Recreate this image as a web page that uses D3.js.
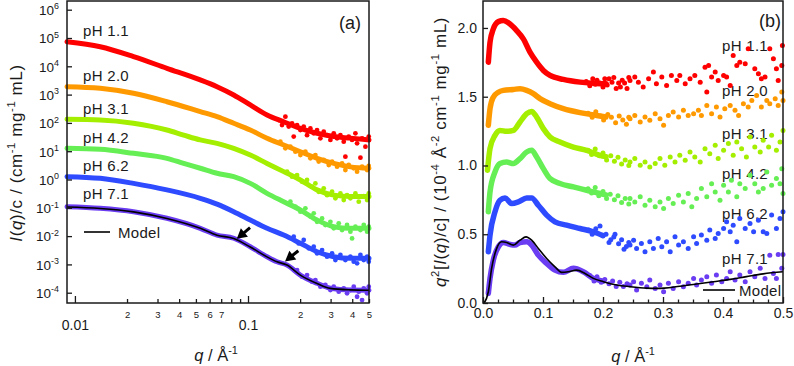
<!DOCTYPE html>
<html>
<head>
<meta charset="utf-8">
<script src="https://cdn.jsdelivr.net/npm/d3@7"></script>
<style>
  body { margin: 0; background: #fff; }
  svg { display: block; font-family: "Liberation Sans", Arial, Helvetica, sans-serif; }
</style>
</head>
<body>
<svg id="chart" width="794" height="366"></svg>
<script>
// ---------- data ----------
const phLabels = ['pH 1.1', 'pH 2.0', 'pH 3.1', 'pH 4.2', 'pH 6.2', 'pH 7.1'];
const phColors = ['#ff0000', '#ff9900', '#a4ee00', '#66ee55', '#2e4bff', '#6a3cf2'];

// panel (a): I(q)/c, curves shifted by decades. [q, I]
const trendA11 = [[0.009,7.4e4],[0.014,4.9e4],[0.0218,2.2e4],[0.034,8.5e3],[0.053,3.3e3],[0.0662,1.9e3],[0.0827,970],[0.1031,430],[0.1288,190],[0.1608,110],[0.2006,64],[0.2505,43],[0.3129,33],[0.3902,29],[0.5,25]];
const trendA20 = [[0.009,1.9e3],[0.014,1.67e3],[0.0218,1.11e3],[0.034,560],[0.053,250],[0.0662,166],[0.0827,97],[0.1031,56],[0.1288,28.6],[0.1608,16.6],[0.2006,9.6],[0.2505,5.6],[0.3129,3.7],[0.3902,2.8],[0.5,2.5]];
const trendA31 = [[0.009,134],[0.014,127],[0.0218,97],[0.034,56],[0.0425,37],[0.053,25],[0.0662,19],[0.0827,12.6],[0.1031,7.3],[0.1288,3.7],[0.1608,1.9],[0.2006,0.96],[0.2505,0.43],[0.3129,0.28],[0.3902,0.25],[0.5,0.25]];
const trendA42 = [[0.009,12.6],[0.014,11.7],[0.0218,8.4],[0.034,5.6],[0.0425,3.7],[0.053,2.5],[0.0662,1.66],[0.0827,1.26],[0.1031,0.73],[0.1288,0.325],[0.1608,0.164],[0.2006,0.084],[0.2505,0.037],[0.3129,0.0215],[0.3902,0.0189],[0.5,0.0189]];
const trendA62 = [[0.009,1.26],[0.014,1.10],[0.0218,0.73],[0.034,0.43],[0.053,0.217],[0.0662,0.135],[0.0827,0.073],[0.1031,0.037],[0.1288,0.0189],[0.1608,0.0109],[0.2006,0.0056],[0.2505,0.0028],[0.3129,0.00187],[0.3902,0.00164],[0.5,0.00164]];
const trendA71 = [[0.009,0.109],[0.014,0.096],[0.0218,0.073],[0.034,0.0426],[0.053,0.0189],[0.0662,0.0109],[0.0827,0.0084],[0.1031,0.0042],[0.1288,0.00187],[0.1471,0.00124],[0.168,0.00095],[0.2006,0.00042],[0.2505,0.000215],[0.299,0.000143],[0.3902,0.000124],[0.5,0.000123]];

const noiseA11 = [[0.1505,126],[0.1572,84],[0.1644,166],[0.1719,74],[0.1796,97],[0.1837,33],[0.192,84],[0.2007,56],[0.2098,74],[0.2193,37],[0.2293,64],[0.2397,43],[0.2505,56],[0.2619,28.5],[0.2738,49],[0.2862,37],[0.2992,25],[0.3128,43],[0.3269,28.5],[0.3418,37],[0.3573,21.7],[0.3652,6.4],[0.3818,33],[0.3992,25],[0.4173,43],[0.4267,19],[0.4461,5.9],[0.456,28.5],[0.4767,14.5],[0.4983,33]];
const noiseA20 = [[0.1538,21.7],[0.1644,12.6],[0.1757,14.5],[0.1878,9.6],[0.2007,7.3],[0.2145,9.6],[0.2293,5.6],[0.245,7.3],[0.2561,4.3],[0.2738,4.9],[0.2927,3.25],[0.3059,4.3],[0.3269,2.85],[0.3495,3.7],[0.3652,2.17],[0.3818,3.25],[0.4082,2.48],[0.4267,1.89],[0.456,2.85],[0.4875,2.17],[0.4983,3.0]];
const noiseA31 = [[0.168,1.89],[0.1796,1.26],[0.192,1.44],[0.2052,0.84],[0.2193,0.96],[0.2344,0.56],[0.245,0.73],[0.2561,0.37],[0.2738,0.49],[0.2862,0.28],[0.3059,0.37],[0.3198,0.216],[0.3418,0.32],[0.3573,0.189],[0.3734,0.28],[0.3904,0.216],[0.4173,0.32],[0.4363,0.165],[0.4663,0.26],[0.4875,0.189],[0.4983,0.32]];
const noiseA42 = [[0.1757,0.165],[0.1878,0.110],[0.2007,0.073],[0.2145,0.096],[0.2293,0.049],[0.2397,0.064],[0.2505,0.032],[0.2678,0.042],[0.2799,0.0247],[0.2992,0.032],[0.3128,0.0188],[0.3343,0.0282],[0.3495,0.0164],[0.3734,0.0247],[0.3904,0.0143],[0.3992,0.0083],[0.4173,0.0215],[0.4461,0.0164],[0.4663,0.0247],[0.4875,0.0143],[0.4983,0.0215]];
const noiseA62 = [[0.1837,0.0095],[0.1963,0.0055],[0.2098,0.0073],[0.2242,0.0037],[0.2397,0.0042],[0.2505,0.00246],[0.2678,0.0032],[0.2862,0.00188],[0.3059,0.00246],[0.3198,0.00143],[0.3418,0.00215],[0.3652,0.00143],[0.3904,0.00188],[0.4082,0.00125],[0.4267,0.00109],[0.4461,0.00215],[0.4663,0.00143],[0.4875,0.00188],[0.4983,0.00125]];
const noiseA71 = [[0.192,6.3e-4],[0.2052,3.7e-4],[0.2193,4.2e-4],[0.2344,2.45e-4],[0.245,2.8e-4],[0.2619,1.63e-4],[0.2799,1.87e-4],[0.2992,1.24e-4],[0.3128,1.63e-4],[0.3343,1.09e-4],[0.3573,1.43e-4],[0.3734,9.5e-5],[0.3904,1.24e-4],[0.4082,1.63e-4],[0.4267,7.2e-5],[0.4363,1.09e-4],[0.456,5.5e-5],[0.4663,1.43e-4],[0.4875,9.5e-5],[0.4983,1.63e-4]];

const modelA = [[0.009,0.107],[0.014,0.095],[0.0218,0.072],[0.034,0.042],[0.053,0.0188],[0.0662,0.0108],[0.0827,0.0082],[0.1031,0.0041],[0.1288,0.00185],[0.1471,0.00124],[0.168,0.00095],[0.2006,0.00042],[0.2505,0.000212],[0.299,0.000142],[0.3902,0.000126],[0.5,0.000122]];
// arrows: [tail, head] as [q, I]
const arrowsA = [[[0.1027,0.0198],[0.0861,0.0080]], [[0.1953,0.00305],[0.1636,0.00128]]];

// panel (b): q^2 I(q)/c (1e-4 units), curves offset. [q, y]
const trendB11 = [[0.0089,1.751],[0.0117,1.896],[0.0172,1.993],[0.0256,2.046],[0.0339,2.054],[0.045,2.029],[0.0561,1.981],[0.0672,1.921],[0.0783,1.824],[0.0894,1.751],[0.1006,1.691],[0.1117,1.655],[0.1339,1.626],[0.1617,1.606],[0.1894,1.596],[0.205,1.594]];
const trendB20 = [[0.0089,1.292],[0.0117,1.413],[0.0172,1.497],[0.0256,1.533],[0.0339,1.546],[0.0506,1.553],[0.0617,1.558],[0.0728,1.546],[0.0839,1.522],[0.095,1.486],[0.1117,1.449],[0.1339,1.413],[0.1617,1.384],[0.1894,1.364],[0.205,1.352]];
const trendB31 = [[0.0075,0.965],[0.0117,1.123],[0.02,1.219],[0.0283,1.255],[0.0394,1.248],[0.0506,1.255],[0.0617,1.316],[0.0728,1.377],[0.0811,1.393],[0.0894,1.352],[0.1006,1.268],[0.1117,1.207],[0.1283,1.171],[0.1506,1.134],[0.1728,1.11],[0.195,1.074],[0.205,1.064]];
const trendB42 = [[0.0089,0.663],[0.0117,0.808],[0.02,0.953],[0.0283,1.014],[0.0394,1.025],[0.0506,1.014],[0.0617,1.05],[0.0728,1.098],[0.0811,1.11],[0.0894,1.062],[0.1006,0.977],[0.1117,0.905],[0.1283,0.869],[0.1506,0.844],[0.1728,0.82],[0.195,0.796],[0.205,0.786]];
const trendB62 = [[0.0089,0.372],[0.0117,0.493],[0.02,0.663],[0.0283,0.747],[0.0367,0.764],[0.0478,0.723],[0.0589,0.735],[0.0728,0.764],[0.0811,0.764],[0.0922,0.711],[0.1061,0.639],[0.12,0.59],[0.1394,0.566],[0.1617,0.542],[0.1839,0.518],[0.2,0.49]];
const trendB71 = [[0.0089,0.07],[0.0117,0.179],[0.0172,0.312],[0.0256,0.409],[0.0339,0.44],[0.045,0.426],[0.0533,0.421],[0.0617,0.44],[0.0728,0.445],[0.0811,0.421],[0.0922,0.348],[0.1061,0.288],[0.12,0.239],[0.1339,0.223],[0.1506,0.252],[0.1672,0.227],[0.1839,0.179],[0.2,0.158]];

const noiseB11 = [[0.172,1.61],[0.178,1.58],[0.183,1.63],[0.187,1.59],[0.19,1.62],[0.195,1.6],[0.2,1.57],[0.203,1.63],[0.207,1.585],[0.21,1.63],[0.215,1.605],[0.218,1.64],[0.222,1.56],[0.226,1.6],[0.229,1.57],[0.232,1.62],[0.236,1.6],[0.24,1.56],[0.243,1.64],[0.245,1.618],[0.253,1.643],[0.259,1.606],[0.267,1.57],[0.276,1.63],[0.284,1.679],[0.289,1.594],[0.298,1.643],[0.306,1.582],[0.314,1.655],[0.323,1.618],[0.328,1.655],[0.337,1.594],[0.345,1.63],[0.353,1.655],[0.362,1.606],[0.37,1.715],[0.373,1.534],[0.376,1.727],[0.381,1.643],[0.387,1.679],[0.392,1.618],[0.401,1.655],[0.406,1.643],[0.412,1.582],[0.417,1.8],[0.423,1.727],[0.428,1.751],[0.437,1.739],[0.442,1.848],[0.453,1.703],[0.459,1.667],[0.464,1.63],[0.47,1.643],[0.478,1.848],[0.484,1.776],[0.489,1.703],[0.492,1.618],[0.498,1.727],[0.499,1.872]];
const noiseB20 = [[0.175,1.38],[0.182,1.35],[0.188,1.39],[0.196,1.36],[0.201,1.33],[0.208,1.37],[0.214,1.35],[0.221,1.31],[0.227,1.36],[0.233,1.33],[0.239,1.3],[0.243,1.35],[0.245,1.34],[0.253,1.364],[0.262,1.316],[0.27,1.352],[0.278,1.328],[0.287,1.376],[0.295,1.34],[0.301,1.292],[0.309,1.364],[0.317,1.388],[0.326,1.352],[0.334,1.401],[0.342,1.364],[0.351,1.376],[0.359,1.401],[0.364,1.364],[0.373,1.437],[0.381,1.376],[0.389,1.425],[0.395,1.352],[0.403,1.413],[0.412,1.437],[0.42,1.401],[0.426,1.364],[0.434,1.449],[0.442,1.425],[0.448,1.473],[0.456,1.509],[0.464,1.425],[0.473,1.473],[0.478,1.449],[0.487,1.485],[0.492,1.437],[0.498,1.534],[0.5,1.473]];
const noiseB31 = [[0.175,1.11],[0.181,1.08],[0.187,1.12],[0.194,1.07],[0.2,1.09],[0.206,1.04],[0.213,1.07],[0.219,1.03],[0.225,1.06],[0.231,1.01],[0.237,1.04],[0.243,1.0],[0.245,1.026],[0.253,1.05],[0.262,1.001],[0.27,1.026],[0.278,0.989],[0.287,1.014],[0.295,1.05],[0.303,1.001],[0.312,1.062],[0.32,1.026],[0.328,1.074],[0.337,1.038],[0.345,1.098],[0.353,1.062],[0.362,1.026],[0.37,1.122],[0.378,1.086],[0.387,1.147],[0.392,1.05],[0.401,1.11],[0.409,1.159],[0.417,1.074],[0.423,1.171],[0.431,1.122],[0.439,1.062],[0.445,1.207],[0.453,1.135],[0.462,1.098],[0.467,1.183],[0.476,1.135],[0.481,1.219],[0.489,1.11],[0.495,1.171],[0.5,1.255]];
const noiseB42 = [[0.175,0.83],[0.181,0.8],[0.187,0.84],[0.193,0.78],[0.2,0.81],[0.206,0.76],[0.212,0.79],[0.219,0.75],[0.225,0.78],[0.231,0.73],[0.237,0.76],[0.243,0.72],[0.245,0.76],[0.253,0.735],[0.262,0.772],[0.27,0.711],[0.278,0.747],[0.287,0.699],[0.295,0.735],[0.301,0.687],[0.309,0.76],[0.317,0.723],[0.326,0.784],[0.334,0.735],[0.342,0.796],[0.348,0.699],[0.356,0.76],[0.364,0.832],[0.373,0.772],[0.381,0.868],[0.387,0.808],[0.395,0.747],[0.401,0.856],[0.409,0.808],[0.414,0.893],[0.423,0.772],[0.428,0.868],[0.437,0.832],[0.445,0.929],[0.453,0.868],[0.459,0.808],[0.467,0.832],[0.473,0.953],[0.481,0.856],[0.489,0.905],[0.495,0.868],[0.5,0.796],[0.498,0.977]];
const noiseB62 = [[0.176,0.53],[0.182,0.5],[0.188,0.54],[0.195,0.56],[0.2,0.49],[0.205,0.5],[0.21,0.44],[0.213,0.46],[0.218,0.48],[0.22,0.5],[0.226,0.43],[0.231,0.46],[0.235,0.39],[0.239,0.41],[0.243,0.44],[0.245,0.421],[0.251,0.457],[0.256,0.397],[0.264,0.433],[0.27,0.373],[0.278,0.445],[0.284,0.397],[0.292,0.469],[0.298,0.409],[0.306,0.445],[0.312,0.373],[0.32,0.481],[0.326,0.421],[0.334,0.445],[0.342,0.397],[0.351,0.481],[0.356,0.433],[0.364,0.494],[0.373,0.457],[0.378,0.53],[0.387,0.469],[0.392,0.506],[0.401,0.542],[0.406,0.59],[0.412,0.518],[0.417,0.566],[0.423,0.445],[0.428,0.614],[0.437,0.542],[0.445,0.578],[0.451,0.518],[0.459,0.602],[0.467,0.518],[0.473,0.506],[0.481,0.639],[0.489,0.542],[0.495,0.614],[0.5,0.663]];
const noiseB71 = [[0.178,0.2],[0.185,0.16],[0.19,0.19],[0.197,0.15],[0.203,0.17],[0.21,0.14],[0.216,0.16],[0.222,0.12],[0.228,0.15],[0.234,0.12],[0.24,0.14],[0.245,0.131],[0.251,0.155],[0.256,0.094],[0.264,0.143],[0.273,0.119],[0.278,0.167],[0.287,0.106],[0.295,0.131],[0.301,0.082],[0.309,0.143],[0.317,0.106],[0.326,0.155],[0.334,0.119],[0.342,0.143],[0.351,0.179],[0.356,0.131],[0.364,0.167],[0.373,0.191],[0.381,0.143],[0.389,0.203],[0.398,0.155],[0.406,0.179],[0.412,0.227],[0.42,0.167],[0.428,0.203],[0.437,0.155],[0.445,0.227],[0.453,0.191],[0.462,0.252],[0.47,0.179],[0.478,0.348],[0.484,0.215],[0.489,0.179],[0.492,0.353],[0.498,0.252],[0.5,0.353]];

const modelB = [[0.002,0.0],[0.0089,0.082],[0.0144,0.252],[0.0228,0.397],[0.0311,0.445],[0.0394,0.44],[0.0506,0.421],[0.0617,0.457],[0.0717,0.481],[0.0811,0.457],[0.0922,0.397],[0.1061,0.324],[0.12,0.263],[0.1311,0.223],[0.1422,0.227],[0.1561,0.239],[0.17,0.215],[0.1839,0.179],[0.2006,0.155],[0.2228,0.131],[0.245,0.119],[0.273,0.108],[0.29,0.106],[0.328,0.122],[0.356,0.138],[0.384,0.155],[0.412,0.172],[0.439,0.192],[0.467,0.212],[0.5,0.227]];

// axis ticks
const decadesA = [1e-4, 1e-3, 1e-2, 1e-1, 1, 1e1, 1e2, 1e3, 1e4, 1e5, 1e6];
const qMajorA = [0.01, 0.1];
const qMinorA = [0.02, 0.03, 0.04, 0.05, 0.06, 0.07, 0.08, 0.09, 0.2, 0.3, 0.4, 0.5];
const qMinorLabelA = ['2', '3', '4', '5', '6', '7', '', '', '2', '3', '4', '5'];
const qMajorB = [0, 0.1, 0.2, 0.3, 0.4, 0.5];
const qMinorB = [0.025, 0.05, 0.075, 0.125, 0.15, 0.175, 0.225, 0.25, 0.275, 0.325, 0.35, 0.375, 0.425, 0.45, 0.475];
const yMajorB = [0, 0.5, 1.0, 1.5, 2.0];

const trendA = [trendA11, trendA20, trendA31, trendA42, trendA62, trendA71];
const noiseA = [noiseA11, noiseA20, noiseA31, noiseA42, noiseA62, noiseA71];
const trendB = [trendB11, trendB20, trendB31, trendB42, trendB62, trendB71];
const noiseB = [noiseB11, noiseB20, noiseB31, noiseB42, noiseB62, noiseB71];

// ---------- helpers ----------
const svg = d3.select('#chart');
const ink = '#1a1a1a';

// parts: 'text' or ['text', 'i' | 'sup']
function addRich(sel, parts, fs) {
    let shift = 0;
    parts.forEach(p => {
        const str = typeof p === 'string' ? p : p[0];
        const kind = typeof p === 'string' ? '' : p[1];
        const span = sel.append('tspan').text(str);
        const want = kind === 'sup' ? -0.42 * fs : 0;
        if (want !== shift) { span.attr('dy', want - shift); shift = want; }
        if (kind === 'sup') span.attr('font-size', 0.66 * fs);
        if (kind === 'i') span.attr('font-style', 'italic');
    });
}

function styleAxis(g) {
    g.select('.domain').remove();
    g.selectAll('.tick line').attr('stroke', ink).attr('stroke-width', 1.3);
    g.selectAll('.tick text').attr('fill', ink);
}

function drawArrow(g, x0, y0, x1, y1) {
    const dx = x1 - x0, dy = y1 - y0, len = Math.hypot(dx, dy);
    const ux = dx / len, uy = dy / len, nx = -uy, ny = ux;
    const hl = 10, hw = 5.5;
    g.append('line')
        .attr('x1', x0).attr('y1', y0)
        .attr('x2', x1 - ux * (hl - 1)).attr('y2', y1 - uy * (hl - 1))
        .attr('stroke', '#000').attr('stroke-width', 3);
    g.append('path')
        .attr('d', `M${x1},${y1}L${x1 - ux * hl + nx * hw},${y1 - uy * hl + ny * hw}L${x1 - ux * hl - nx * hw},${y1 - uy * hl - ny * hw}Z`)
        .attr('fill', '#000');
}

// ---------- panel (a) ----------
const xA = d3.scaleLog().domain([0.009, 0.5]).range([67, 369]);
const yA = d3.scaleLog().domain([4.33e-5, 2.03e6]).range([303, 1]);
const gA = svg.append('g');

const lineA = d3.line().x(d => xA(d[0])).y(d => yA(d[1])).curve(d3.curveMonotoneX);

trendA.forEach((s, i) => {
    gA.append('path').datum(s)
        .attr('d', lineA)
        .attr('fill', 'none')
        .attr('stroke', phColors[i])
        .attr('stroke-width', 5)
        .attr('stroke-linecap', 'round')
        .attr('stroke-linejoin', 'round');
    gA.selectAll(null).data(noiseA[i]).join('circle')
        .attr('cx', d => xA(d[0]))
        .attr('cy', d => yA(d[1]))
        .attr('r', 2.4)
        .attr('fill', phColors[i]);
});

gA.append('path').datum(modelA)
    .attr('d', lineA)
    .attr('fill', 'none')
    .attr('stroke', '#000')
    .attr('stroke-width', 1.6);

arrowsA.forEach(([t, h]) => drawArrow(gA, xA(t[0]), yA(t[1]), xA(h[0]), yA(h[1])));

// axes (a)
gA.append('g').attr('transform', 'translate(67,0)')
    .call(d3.axisLeft(yA).tickValues(decadesA).tickSize(-5).tickPadding(8).tickFormat(''))
    .call(styleAxis)
    .call(g => g.selectAll('.tick text').each(function (d) {
        const t = d3.select(this).attr('font-size', 13.5).attr('dy', '0.36em');
        addRich(t, ['10', [String(Math.round(Math.log10(d))), 'sup']], 13.5);
    }));

gA.append('g').attr('transform', 'translate(0,303)')
    .call(d3.axisBottom(xA).tickValues(qMajorA).tickSize(-7).tickPadding(17).tickFormat(d => String(d)))
    .call(styleAxis)
    .call(g => g.selectAll('.tick text').attr('font-size', 14));

gA.append('g').attr('transform', 'translate(0,303)')
    .call(d3.axisBottom(xA).tickValues(qMinorA).tickSize(-4).tickPadding(8).tickFormat((d, i) => qMinorLabelA[i]))
    .call(styleAxis)
    .call(g => g.selectAll('.tick text').attr('font-size', 9.5));

gA.append('rect')
    .attr('x', xA.range()[0]).attr('y', yA.range()[1])
    .attr('width', xA.range()[1] - xA.range()[0])
    .attr('height', yA.range()[0] - yA.range()[1])
    .attr('fill', 'none').attr('stroke', ink).attr('stroke-width', 1.5);

// labels (a)
const labelYA = [36, 81, 114, 143, 171, 199];
phLabels.forEach((lab, i) => {
    gA.append('text').attr('x', 83).attr('y', labelYA[i])
        .attr('font-size', 15).attr('letter-spacing', 0.3).attr('fill', ink).text(lab);
});
gA.append('line').attr('x1', 84).attr('x2', 110).attr('y1', 232).attr('y2', 232)
    .attr('stroke', '#000').attr('stroke-width', 1.6);
gA.append('text').attr('x', 118).attr('y', 238).attr('font-size', 15).attr('letter-spacing', 0.3)
    .attr('fill', ink).text('Model');
gA.append('text').attr('x', 361).attr('y', 29).attr('text-anchor', 'end')
    .attr('font-size', 18).attr('fill', ink).text('(a)');

const xLabA = gA.append('text').attr('x', 216).attr('y', 361)
    .attr('text-anchor', 'middle').attr('font-size', 16.5).attr('fill', ink);
addRich(xLabA, [['q', 'i'], ' / Å', ['-1', 'sup']], 16.5);

const yLabA = gA.append('text').attr('transform', 'translate(22,153) rotate(-90)')
    .attr('text-anchor', 'middle').attr('font-size', 17).attr('letter-spacing', 0.6).attr('fill', ink);
addRich(yLabA, [['I', 'i'], '(', ['q', 'i'], ')/c / (cm', ['-1', 'sup'], ' mg', ['-1', 'sup'], ' mL)'], 17);

// ---------- panel (b) ----------
const xB = d3.scaleLinear().domain([0, 0.5]).range([483, 783]);
const yB = d3.scaleLinear().domain([0, 2.196]).range([303, 1]);
const gB = svg.append('g');

// labels first, points sit on top of them
const labelYB = [51, 96, 139, 179, 219, 264];
phLabels.forEach((lab, i) => {
    gB.append('text').attr('x', 722).attr('y', labelYB[i])
        .attr('font-size', 15).attr('letter-spacing', 0.3).attr('fill', ink).text(lab);
});

const lineB = d3.line().x(d => xB(d[0])).y(d => yB(d[1])).curve(d3.curveMonotoneX);

trendB.forEach((s, i) => {
    gB.append('path').datum(s)
        .attr('d', lineB)
        .attr('fill', 'none')
        .attr('stroke', phColors[i])
        .attr('stroke-width', 5.5)
        .attr('stroke-linecap', 'round')
        .attr('stroke-linejoin', 'round');
    gB.selectAll(null).data(noiseB[i]).join('circle')
        .attr('cx', d => xB(d[0]))
        .attr('cy', d => yB(d[1]))
        .attr('r', 2.5)
        .attr('fill', phColors[i]);
});

gB.append('path').datum(modelB)
    .attr('d', lineB)
    .attr('fill', 'none')
    .attr('stroke', '#000')
    .attr('stroke-width', 1.6);

gB.append('g').attr('transform', 'translate(483,0)')
    .call(d3.axisLeft(yB).tickValues(yMajorB).tickSize(-5).tickPadding(6).tickFormat(d3.format('.1f')))
    .call(styleAxis)
    .call(g => g.selectAll('.tick text').attr('font-size', 14));

gB.append('g').attr('transform', 'translate(0,303)')
    .call(d3.axisBottom(xB).tickValues(qMajorB).tickSize(-6).tickPadding(5).tickFormat(d3.format('.1f')))
    .call(styleAxis)
    .call(g => g.selectAll('.tick text').attr('font-size', 14));

gB.append('g').attr('transform', 'translate(0,303)')
    .call(d3.axisBottom(xB).tickValues(qMinorB).tickSize(-3.5).tickFormat(''))
    .call(styleAxis);

gB.append('rect')
    .attr('x', xB.range()[0]).attr('y', yB.range()[1])
    .attr('width', xB.range()[1] - xB.range()[0])
    .attr('height', yB.range()[0] - yB.range()[1])
    .attr('fill', 'none').attr('stroke', ink).attr('stroke-width', 1.5);

gB.append('line').attr('x1', 703).attr('x2', 735).attr('y1', 290).attr('y2', 290)
    .attr('stroke', '#000').attr('stroke-width', 1.6);
gB.append('text').attr('x', 739).attr('y', 296).attr('font-size', 15).attr('letter-spacing', 0.3)
    .attr('fill', ink).text('Model');
gB.append('text').attr('x', 781).attr('y', 27).attr('text-anchor', 'end')
    .attr('font-size', 18).attr('fill', ink).text('(b)');

const xLabB = gB.append('text').attr('x', 633).attr('y', 362)
    .attr('text-anchor', 'middle').attr('font-size', 16.5).attr('fill', ink);
addRich(xLabB, [['q', 'i'], ' / Å', ['-1', 'sup']], 16.5);

const yLabB = gB.append('text').attr('transform', 'translate(446,152) rotate(-90)')
    .attr('text-anchor', 'middle').attr('font-size', 17).attr('letter-spacing', 0.6).attr('fill', ink);
addRich(yLabB, [['q', 'i'], ['2', 'sup'], '[', ['I', 'i'], '(', ['q', 'i'], ')/c] / (10', ['-4', 'sup'], ' Å', ['-2', 'sup'], ' cm', ['-1', 'sup'], ' mg', ['-1', 'sup'], ' mL)'], 17);
</script>
</body>
</html>
